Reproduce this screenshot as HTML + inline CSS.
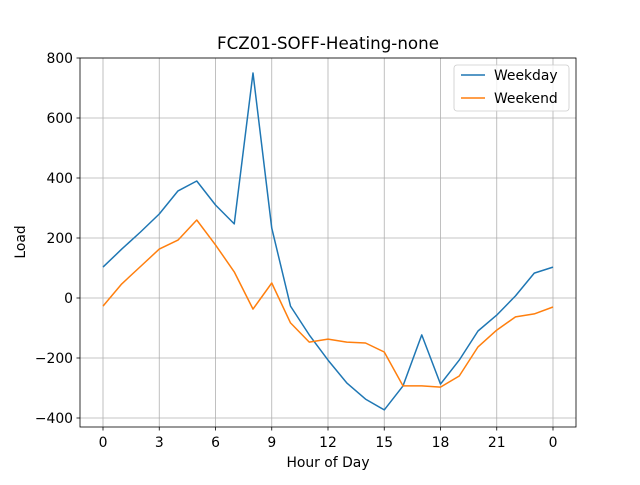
<!DOCTYPE html>
<html><head><meta charset="utf-8"><style>
body{margin:0;background:#fff;}
svg text{font-family:"DejaVu Sans","Liberation Sans",sans-serif;fill:#000;}
</style></head><body>
<svg id="chart" width="640" height="480" viewBox="0 0 640 480">
<rect width="640" height="480" fill="#fff"/>
<g id="grid"></g>
<g id="series"></g>
<rect x="80" y="58" width="496" height="369" fill="none" stroke="#000" stroke-width="0.8"/>
<g id="ticks"></g>
<text x="328" y="49" text-anchor="middle" font-size="16.7">FCZ01-SOFF-Heating-none</text>
<text x="328" y="467" text-anchor="middle" font-size="13.9">Hour of Day</text>
<text transform="translate(25,242) rotate(-90)" text-anchor="middle" font-size="13.9">Load</text>
<g>
<rect x="454" y="65" width="115" height="46" rx="3" fill="#fff" fill-opacity="0.8" stroke="#ccc" stroke-width="0.8"/>
<g>
<line x1="461" y1="75" x2="485" y2="75" stroke="#1f77b4" stroke-width="1.5"/>
<text x="494" y="80" font-size="13.9">Weekday</text></g>
<g>
<line x1="461" y1="98" x2="485" y2="98" stroke="#ff7f0e" stroke-width="1.5"/>
<text x="494" y="103" font-size="13.9">Weekend</text></g>
</g>
</svg>
<script>
const hours=[0,1,2,3,4,5,6,7,8,9,10,11,12,13,14,15,16,17,18,19,20,21,22,23,24];
const weekday=[103,163,220,280,357,390,310,247,750,233,-27,-123,-207,-283,-337,-373,-293,-123,-287,-207,-110,-57,7,83,103];
const weekend=[-27,47,105,163,193,260,177,87,-37,50,-83,-147,-137,-147,-150,-180,-293,-293,-297,-260,-163,-107,-63,-53,-30];
const xTicks=[0,3,6,9,12,15,18,21,24];
const xTickLabels=["0","3","6","9","12","15","18","21","0"];
const yTicks=[-400,-200,0,200,400,600,800];
const NS="http://www.w3.org/2000/svg";
const X0=80,X1=576,Y0=58,Y1=427,xmin=-1.2267,xmax=25.2267,ymin=-430,ymax=800;
function xs(v){return X0+(v-xmin)/(xmax-xmin)*(X1-X0);}
function ys(v){return Y1-(v-ymin)/(ymax-ymin)*(Y1-Y0);}
function mk(tag,attrs,parent){const e=document.createElementNS(NS,tag);for(const k in attrs)e.setAttribute(k,attrs[k]);parent.appendChild(e);return e;}
const grid=document.getElementById('grid'),ticks=document.getElementById('ticks'),ser=document.getElementById('series');
xTicks.forEach((t,i)=>{const x=xs(t);
 const g=mk('line',{x1:x,x2:x,y1:Y0,y2:Y1,stroke:'#b0b0b0','stroke-width':0.8},grid);
 
 
 mk('line',{x1:x,x2:x,y1:Y1,y2:Y1+3.5,stroke:'#000','stroke-width':0.8},ticks);
 const tx=mk('text',{x:x,y:Y1+20,'text-anchor':'middle','font-size':13.9},ticks);tx.textContent=xTickLabels[i];
 
 
});
yTicks.forEach(t=>{const y=ys(t);
 const g=mk('line',{x1:X0,x2:X1,y1:y,y2:y,stroke:'#b0b0b0','stroke-width':0.8},grid);
 
 
 mk('line',{x1:X0-3.5,x2:X0,y1:y,y2:y,stroke:'#000','stroke-width':0.8},ticks);
 const tx=mk('text',{x:X0-7,y:y+5,'text-anchor':'end','font-size':13.9},ticks);tx.textContent=String(t).replace('-','\u2212');
 
 
});
function line(vals,color,name){
 const p=mk('polyline',{points:vals.map((v,i)=>xs(hours[i])+','+ys(v)).join(' '),fill:'none',stroke:color,'stroke-width':1.5,'stroke-linejoin':'round'},ser);
 
 
}
line(weekday,'#1f77b4','weekday-line');
line(weekend,'#ff7f0e','weekend-line');
</script>
</body></html>
